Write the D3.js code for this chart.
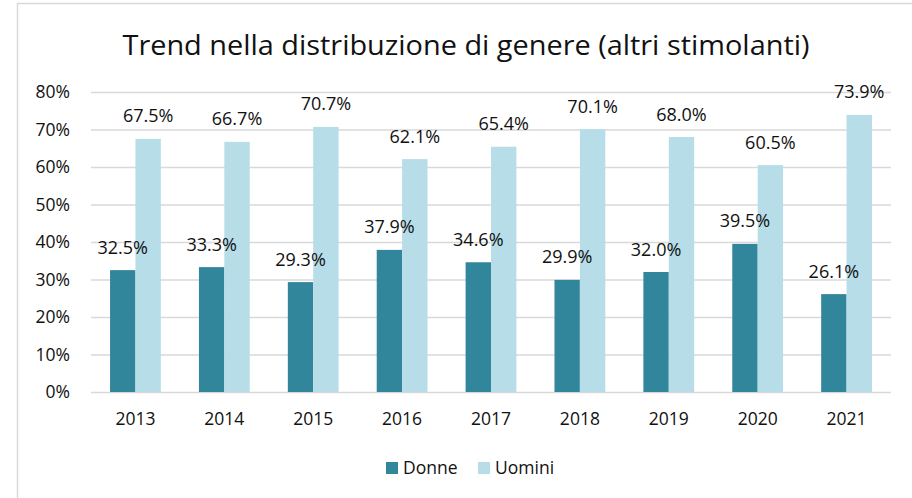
<!DOCTYPE html>
<html><head><meta charset="utf-8">
<script src="https://cdn.jsdelivr.net/npm/d3@7"></script>
<style>body{margin:0;background:#fff}svg{display:block}</style>
</head><body>
<svg id="c" width="912" height="498"></svg>
<script>
const years = ["2013","2014","2015","2016","2017","2018","2019","2020","2021"];
const donne = [32.5,33.3,29.3,37.9,34.6,29.9,32.0,39.5,26.1];
const uomini = [67.5,66.7,70.7,62.1,65.4,70.1,68.0,60.5,73.9];
const seriesNames = ["Donne","Uomini"];
const colors = ["#32869c","#b7dde8"];
const yTicks = [0,10,20,30,40,50,60,70,80];
const title = "Trend nella distribuzione di genere (altri stimolanti)";

(function(){
const svg = d3.select("#c");
const font = "'Open Sans', 'Noto Sans', sans-serif";
const ink = "#111";
svg.append("rect").attr("x",17.5).attr("y",3.5).attr("width",920).attr("height",520)
  .attr("fill","#fff").attr("stroke","#d9d9d9").attr("stroke-width",1.5);

const pl=91, pr=891, pt=92, pb=392;
const x = d3.scaleBand().domain(years).range([pl,pr]).paddingInner(0.4286).paddingOuter(0.2143);
const xs = d3.scaleBand().domain(seriesNames).range([0,x.bandwidth()]);
const y = d3.scaleLinear().domain([0,80]).range([pb,pt]);

svg.append("text").attr("x",466).attr("y",55).attr("text-anchor","middle")
  .attr("font-family",font).attr("font-size",27).attr("fill",ink)
  .attr("textLength",687).attr("lengthAdjust","spacingAndGlyphs").text(title);

const ga = svg.append("g").attr("transform",`translate(${pl},0)`)
  .call(d3.axisLeft(y).tickValues(yTicks).tickSize(-(pr-pl)).tickFormat(d=>d+"%"));
ga.select(".domain").remove();
ga.selectAll(".tick line").attr("stroke","#d9d9d9").attr("stroke-width",1.3);
ga.selectAll(".tick text").attr("x",-21).attr("font-family",font).attr("font-size",17.5).attr("fill",ink);

const gx = svg.append("g").attr("transform",`translate(0,${pb})`)
  .call(d3.axisBottom(x).tickSize(0).tickPadding(21));
gx.select(".domain").remove();
gx.selectAll(".tick text").attr("font-family",font).attr("font-size",17.5).attr("fill",ink);

const data = [donne, uomini];
const bars = svg.append("g"), labels = svg.append("g");
seriesNames.forEach((s,si)=>{
  bars.append("g").selectAll("rect").data(years).join("rect")
    .attr("x",d=>x(d)+xs(s)).attr("width",xs.bandwidth())
    .attr("y",(d,i)=>y(data[si][i])).attr("height",(d,i)=>pb-y(data[si][i]))
    .attr("fill",colors[si]);
  labels.append("g").selectAll("text").data(years).join("text")
    .attr("x",d=>x(d)+xs(s)+xs.bandwidth()/2)
    .attr("y",(d,i)=>y(data[si][i])-16.5)
    .attr("text-anchor","middle").attr("font-family",font).attr("font-size",18).attr("fill",ink)
    .text((d,i)=>data[si][i].toFixed(1)+"%");
});

const lg = svg.append("g");
const lx = [386,478];
seriesNames.forEach((s,i)=>{
  lg.append("rect").attr("x",lx[i]).attr("y",462).attr("width",12).attr("height",12).attr("fill",colors[i]);
  lg.append("text").attr("x",lx[i]+17).attr("y",474).attr("font-family",font).attr("font-size",17.5).attr("fill",ink).text(s);
});
})();
</script>
</body></html>
